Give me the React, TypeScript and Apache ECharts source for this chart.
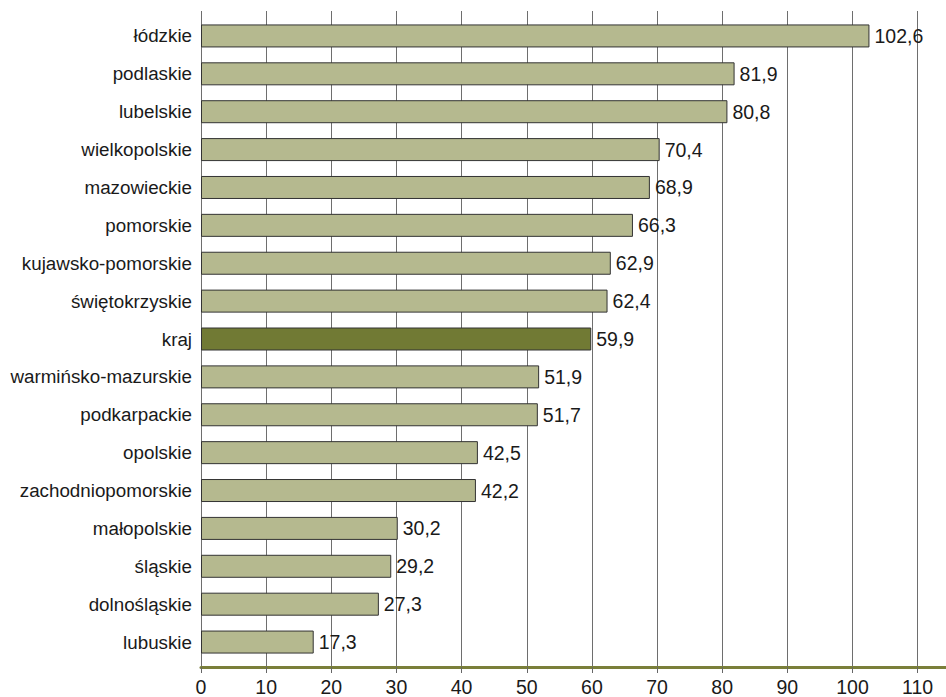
import React, { useEffect, useRef } from "react";
import * as echarts from "echarts";

const categories = [
  "łódzkie",
  "podlaskie",
  "lubelskie",
  "wielkopolskie",
  "mazowieckie",
  "pomorskie",
  "kujawsko-pomorskie",
  "świętokrzyskie",
  "kraj",
  "warmińsko-mazurskie",
  "podkarpackie",
  "opolskie",
  "zachodniopomorskie",
  "małopolskie",
  "śląskie",
  "dolnośląskie",
  "lubuskie",
];
const values = [102.6, 81.9, 80.8, 70.4, 68.9, 66.3, 62.9, 62.4, 59.9, 51.9, 51.7, 42.5, 42.2, 30.2, 29.2, 27.3, 17.3];
const highlight = "kraj";

const AXIS_MAX = 114.35;
const FONT = "'Liberation Sans', Arial, Helvetica, sans-serif";

export default function App() {
  const ref = useRef<HTMLDivElement>(null);
  useEffect(() => {
    if (!ref.current) return;
    const chart = echarts.init(ref.current, undefined, { renderer: "svg" });
    chart.setOption({
      animation: false,
      backgroundColor: "#ffffff",
      textStyle: { fontFamily: FONT },
      grid: [
        { left: 201, right: -1, top: 11, height: 657 },
        { left: 201, right: -1, top: 17, height: 644 },
      ],
      xAxis: [
        {
          gridIndex: 0,
          type: "value",
          min: 0,
          max: AXIS_MAX,
          interval: 10,
          axisLine: { show: true, lineStyle: { color: "#7a7f3a", width: 3 } },
          axisTick: { show: true, length: 6, lineStyle: { color: "#666", width: 1 } },
          splitLine: { show: true, lineStyle: { color: "#6e6e6e", width: 1 } },
          axisLabel: {
            show: true,
            showMaxLabel: false,
            margin: 10,
            fontSize: 19.5,
            color: "#1a1a1a",
            fontFamily: FONT,
          },
        },
        {
          gridIndex: 1,
          type: "value",
          min: 0,
          max: AXIS_MAX,
          interval: 10,
          show: false,
        },
      ],
      yAxis: [
        { gridIndex: 0, type: "value", show: false, min: 0, max: 1 },
        {
          gridIndex: 1,
          type: "category",
          data: categories,
          inverse: true,
          axisLine: { show: false },
          axisTick: { show: false },
          splitLine: { show: false },
          axisLabel: { margin: 9, fontSize: 18.8, color: "#1a1a1a", fontFamily: FONT },
        },
      ],
      series: [
        {
          type: "bar",
          xAxisIndex: 1,
          yAxisIndex: 1,
          barWidth: 23,
          data: values.map((v, i) => ({
            value: v,
            itemStyle: {
              color: categories[i] === highlight ? "#717a34" : "#b5b98f",
              borderColor: "#333",
              borderWidth: 1,
            },
          })),
          label: {
            show: true,
            position: "right",
            distance: 5,
            fontSize: 19.5,
            color: "#1a1a1a",
            fontFamily: FONT,
            formatter: (p: any) => String(p.value).replace(".", ","),
          },
        },
      ],
    });
    return () => chart.dispose();
  }, []);
  return (
    <div
      ref={ref}
      style={{ position: "absolute", left: 0, top: 0, width: 946, height: 697 }}
    />
  );
}
